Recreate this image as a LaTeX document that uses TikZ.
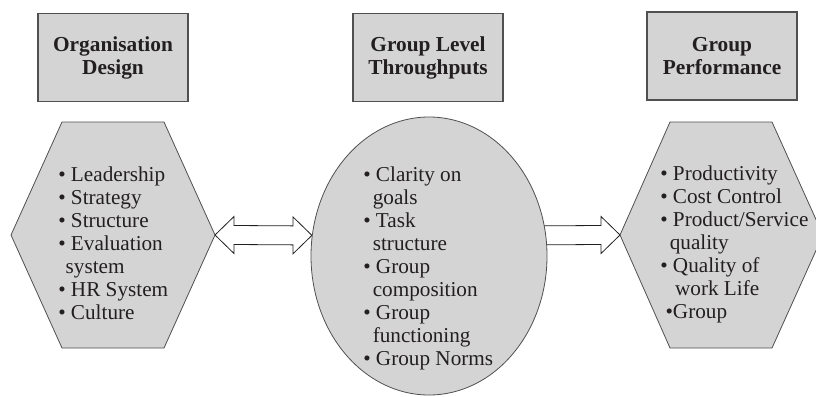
\documentclass[tikz,border=0pt]{standalone}
\usepackage{fontspec}
\setmainfont{Liberation Serif}
\usepackage{xcolor}
\usepackage{tikz}
\usetikzlibrary{shapes,arrows,positioning,calc,backgrounds}

\definecolor{boxgray}{RGB}{212,212,212}
\definecolor{edgegray}{RGB}{80,80,80}
\definecolor{inkgray}{RGB}{35,31,32}

\begin{document}
\begin{tikzpicture}[x=0.75pt, y=-0.75pt,
    headbox/.style={draw=edgegray, line width=0.9pt, fill=boxgray, minimum width=112.5pt, minimum height=66pt, align=center, text=inkgray, font=\fontsize{16}{17.25}\selectfont\bfseries},
    shapeline/.style={draw=edgegray, line width=0.6pt, fill=boxgray},
    itemtext/.style={inner sep=0pt, align=left, anchor=north west, text=inkgray, font=\fontsize{15.9}{17.25}\selectfont},
    fatarrow/.style={draw=inkgray, line width=0.6pt, fill=white}]
  \useasboundingbox (0,0) rectangle (816,396);

  % headings
  \node[headbox] (orghead) at (113,57.5) {Organisation\\Design};
  \node[headbox] (thruhead) at (428,57.5) {Group Level\\Throughputs};
  \node[headbox] (perfhead) at (722,56) {Group\\Performance};

  % left and right hexagons
  \draw[shapeline] (11,235) -- (62,122) -- (164,122) -- (215,235) -- (164,348) -- (62,348) -- cycle;
  \coordinate (orgR) at (215,235);
  \draw[shapeline] (620,235) -- (670,122) -- (772,122) -- (823,235) -- (772,348) -- (670,348) -- cycle;
  \coordinate (perfL) at (620,235);

  % middle ellipse
  \node[ellipse, shapeline, minimum width=177pt, minimum height=208.5pt, inner sep=0pt] (thru) at (429,256) {};

  \node[itemtext] (orgtxt) at (58,167) {• Leadership\\• Strategy\\• Structure\\• Evaluation\\\hspace*{0.35em}system\\• HR System\\• Culture};
  \node[itemtext] (thrutxt) at (363,167) {• Clarity on\\\hspace*{0.45em}goals\\• Task\\\hspace*{0.45em}structure\\• Group\\\hspace*{0.45em}composition\\• Group\\\hspace*{0.45em}functioning\\• Group Norms};
  \node[itemtext] (perftxt) at (660,166) {• Productivity\\• Cost Control\\• Product/Service\\\hspace*{0.45em}quality\\• Quality of\\\hspace*{0.7em}work Life\\\hspace*{0.25em}•Group};

  % connectors
  \begin{scope}[on background layer]
    \draw[fatarrow] (orgR) -- ++(19,-18.5) -- ++(0,9) -- ($(thru.170)+(-19,-9.5)$) -- ++(0,-9)
      -- (thru.170) -- ++(-19,18.5) -- ++(0,-9) -- ($(orgR)+(19,9.5)$) -- ++(0,9) -- cycle;
    \draw[fatarrow] ($(thru.10)+(-8,-9.5)$) -- ($(perfL)+(-19,-9.5)$) -- ++(0,-9) -- (perfL)
      -- ++(-19,18.5) -- ++(0,-9) -- ($(thru.10)+(-8,9.5)$) -- cycle;
  \end{scope}
\end{tikzpicture}
\end{document}
